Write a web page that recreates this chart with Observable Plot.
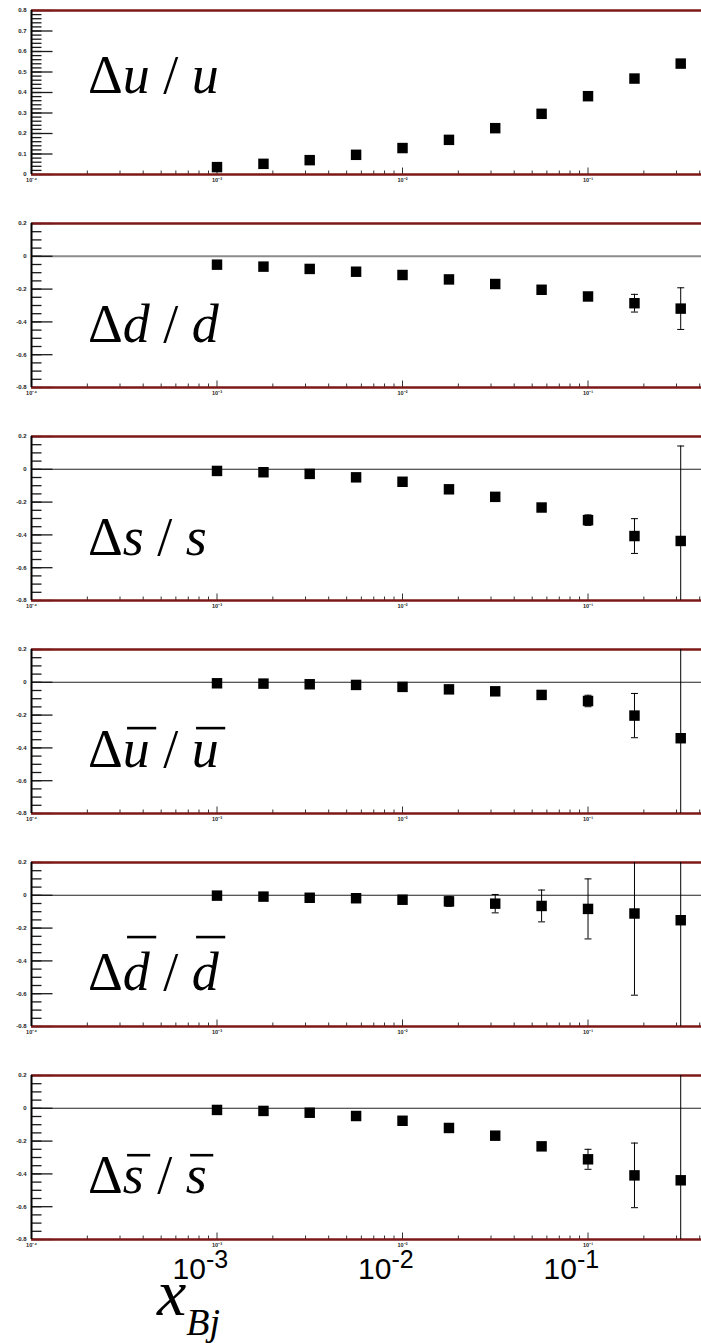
<!DOCTYPE html>
<html>
<head>
<meta charset="utf-8">
<script src="https://cdn.jsdelivr.net/npm/d3@7"></script>
<script src="https://cdn.jsdelivr.net/npm/@observablehq/plot@0.6"></script>
<style>
  body { margin: 0; background: #fff; }
  #chart svg { display: block; overflow: hidden; }
</style>
</head>
<body>
<div id="chart"></div>
<script>
// Bjorken-x bin centres (quarter-decade steps)
const xBj = [0.001, 0.00178, 0.00316, 0.00562, 0.01, 0.0178, 0.0316, 0.0562, 0.1, 0.178, 0.316];

// Polarisation ratios per flavour and their errors
const duOverU   = [0.036, 0.052, 0.070, 0.096, 0.129, 0.169, 0.226, 0.296, 0.382, 0.468, 0.541];
const duErr     = [0.004, 0.004, 0.004, 0.005, 0.006, 0.007, 0.008, 0.009, 0.010, 0.012, 0.014];

const ddOverD   = [-0.051, -0.063, -0.077, -0.094, -0.114, -0.141, -0.169, -0.204, -0.245, -0.286, -0.319];
const ddErr     = [0.004, 0.004, 0.005, 0.006, 0.007, 0.008, 0.010, 0.012, 0.020, 0.054, 0.127];

const dsOverS   = [-0.010, -0.018, -0.028, -0.049, -0.076, -0.122, -0.168, -0.233, -0.310, -0.407, -0.437];
const dsErr     = [0.003, 0.004, 0.005, 0.006, 0.008, 0.010, 0.013, 0.018, 0.032, 0.106, 0.579];

const dubOverUb = [-0.006, -0.008, -0.012, -0.016, -0.028, -0.043, -0.055, -0.077, -0.114, -0.203, -0.341];
const dubErr    = [0.003, 0.003, 0.004, 0.005, 0.006, 0.008, 0.010, 0.015, 0.035, 0.135, 0.600];

const ddbOverDb = [-0.002, -0.008, -0.015, -0.018, -0.027, -0.037, -0.051, -0.065, -0.083, -0.111, -0.152];
const ddbErr    = [0.004, 0.005, 0.006, 0.008, 0.012, 0.030, 0.056, 0.097, 0.183, 0.498, 0.700];

const dsbOverSb = [-0.010, -0.016, -0.027, -0.047, -0.076, -0.120, -0.167, -0.232, -0.311, -0.409, -0.439];
const dsbErr    = [0.003, 0.004, 0.005, 0.006, 0.008, 0.010, 0.013, 0.018, 0.061, 0.197, 0.700];

// Axis ranges and tick values
const xDomain = [1e-4, 0.409];
const xDecades = [1e-4, 1e-3, 1e-2, 1e-1];
const xDecadeLabels = ["10\u207B\u2074", "10\u207B\u00B3", "10\u207B\u00B2", "10\u207B\u00B9"];
const xMinor = [2,3,4,5,6,7,8,9].flatMap(k => [1e-4, 1e-3, 1e-2, 1e-1].map(p => k * p)).filter(v => v < xDomain[1]);
const bigTicks = [1e-3, 1e-2, 1e-1];
const bigTickExp = ["-3", "-2", "-1"];

const yDomainU = [0, 0.8];
const yMajorU = [0, 0.1, 0.2, 0.3, 0.4, 0.5, 0.6, 0.7, 0.8];
const yMinorU = d3.range(0, 41).map(i => +(i * 0.02).toFixed(2));
const yDomain = [-0.8, 0.2];
const yMajor = [-0.8, -0.6, -0.4, -0.2, 0, 0.2];
const yMinor = d3.range(0, 21).map(i => +(-0.8 + i * 0.05).toFixed(2));

// Panel titles: [text, italic, overbar height in em]
const labelU   = [["\u0394"], ["u", 1], [" / "], ["u", 1]];
const labelD   = [["\u0394"], ["d", 1], [" / "], ["d", 1]];
const labelS   = [["\u0394"], ["s", 1], [" / "], ["s", 1]];
const labelUb  = [["\u0394"], ["u", 1, 0.72], [" / "], ["u", 1, 0.72]];
const labelDb  = [["\u0394"], ["d", 1, 0.98], [" / "], ["d", 1, 0.98]];
const labelSb  = [["\u0394"], ["s", 1, 0.7], [" / "], ["s", 1, 0.7]];

const panels = [
  {values: duOverU,   errors: duErr,  domain: yDomainU, major: yMajorU, minor: yMinorU, label: labelU,  labelY: 83,  zero: null},
  {values: ddOverD,   errors: ddErr,  domain: yDomain,  major: yMajor,  minor: yMinor,  label: labelD,  labelY: 119, zero: {stroke: "#8c8c8c", width: 2}},
  {values: dsOverS,   errors: dsErr,  domain: yDomain,  major: yMajor,  minor: yMinor,  label: labelS,  labelY: 119, zero: {stroke: "#222", width: 1.1}},
  {values: dubOverUb, errors: dubErr, domain: yDomain,  major: yMajor,  minor: yMinor,  label: labelUb, labelY: 118, zero: {stroke: "#222", width: 1.1}},
  {values: ddbOverDb, errors: ddbErr, domain: yDomain,  major: yMajor,  minor: yMinor,  label: labelDb, labelY: 128, zero: {stroke: "#222", width: 1.1}},
  {values: dsbOverSb, errors: dsbErr, domain: yDomain,  major: yMajor,  minor: yMinor,  label: labelSb, labelY: 118, zero: {stroke: "#222", width: 1.1}}
];

const serif = '"Liberation Serif", "Times New Roman", Times, serif';
const sans = '"Liberation Sans", Arial, Helvetica, sans-serif';
const frameRed = "#7d1818";

// Custom symbols: inward axis ticks and error-bar caps
const hTick = len => ({draw(ctx) { ctx.moveTo(0, 0); ctx.lineTo(len, 0); }});
const vTick = len => ({draw(ctx) { ctx.moveTo(0, 0); ctx.lineTo(0, -len); }});
const cap = w => ({draw(ctx) { ctx.moveTo(-w / 2, 0); ctx.lineTo(w / 2, 0); }});

const fmtY = d => d === 0 ? "0" : d.toFixed(1);
const container = document.getElementById("chart");
const plotHeight = 164;

function drawLabel(svg, parts, x, y, size) {
  const text = d3.select(svg).append("text")
    .attr("x", x).attr("y", y).attr("text-anchor", "start")
    .attr("font-family", serif).attr("font-size", size).attr("fill", "black");
  parts.forEach(([t, italic]) => text.append("tspan").attr("font-style", italic ? "italic" : "normal").text(t));
  const node = text.node();
  let idx = 0;
  parts.forEach(([t, italic, bar]) => {
    if (bar) {
      const start = node.getStartPositionOfChar(idx).x;
      const len = node.getSubStringLength(idx, t.length);
      const by = y - bar * size;
      d3.select(svg).append("line")
        .attr("x1", start + 0.08 * size).attr("x2", start + len + 0.12 * size)
        .attr("y1", by).attr("y2", by)
        .attr("stroke", "black").attr("stroke-width", 2.6);
    }
    idx += t.length;
  });
}

panels.forEach((cfg, i) => {
  const last = i === panels.length - 1;
  const height = last ? 278 : 213;
  const rows = xBj.map((x, k) => ({x, y: cfg.values[k], e: cfg.errors[k]}));
  const marks = [];
  if (cfg.zero) marks.push(Plot.ruleY([0], {stroke: cfg.zero.stroke, strokeWidth: cfg.zero.width}));
  marks.push(
    // y-axis: minor and major ticks drawn inward, labels outside
    Plot.dot(cfg.minor, {y: d => d, frameAnchor: "left", symbol: hTick(10), fill: "none", stroke: "#1a1a1a", strokeWidth: 1.3}),
    Plot.dot(cfg.major, {y: d => d, frameAnchor: "left", symbol: hTick(21), fill: "none", stroke: "#1a1a1a", strokeWidth: 1.3}),
    Plot.text(cfg.major, {y: d => d, frameAnchor: "left", dx: -5, textAnchor: "end", text: fmtY,
      fontSize: 6, fontWeight: "bold", fontFamily: sans, fill: "#222"}),
    // x-axis: log ticks on the bottom edge
    Plot.dot(xMinor, {x: d => d, frameAnchor: "bottom", symbol: vTick(4), fill: "none", stroke: "#333", strokeWidth: 1}),
    Plot.dot(xDecades, {x: d => d, frameAnchor: "bottom", symbol: vTick(7), fill: "none", stroke: "#333", strokeWidth: 1}),
    Plot.text(xDecades, {x: d => d, frameAnchor: "bottom", dy: 7, text: (d, k) => xDecadeLabels[k],
      fontSize: 5.5, fontWeight: "bold", fontFamily: sans, fill: "#222"}),
    // frame: top and bottom edges plus left axis line
    Plot.ruleY(cfg.domain, {stroke: frameRed, strokeWidth: 2.4}),
    Plot.ruleX([xDomain[0]], {stroke: "black", strokeWidth: 2}),
    // error bars with caps
    Plot.ruleX(rows, {x: "x", y1: d => d.y - d.e, y2: d => d.y + d.e, stroke: "black", strokeWidth: 1, clip: true}),
    Plot.dot(rows, {x: "x", y: d => d.y + d.e, symbol: cap(7), fill: "none", stroke: "black", strokeWidth: 1, clip: true}),
    Plot.dot(rows, {x: "x", y: d => d.y - d.e, symbol: cap(7), fill: "none", stroke: "black", strokeWidth: 1, clip: true}),
    // data markers
    Plot.dot(rows, {x: "x", y: "y", symbol: "square", r: 5.9, fill: "black", stroke: "none"})
  );

  const plot = Plot.plot({
    width: 701,
    height,
    marginLeft: 31,
    marginRight: 0,
    marginTop: 10,
    marginBottom: height - 10 - plotHeight,
    style: {background: "white", overflow: "hidden"},
    x: {type: "log", domain: xDomain, axis: null},
    y: {domain: cfg.domain, axis: null},
    marks
  });
  container.appendChild(plot);

  drawLabel(plot, cfg.label, 88, 10 + cfg.labelY, 54);

  if (last) {
    const sx = plot.scale("x");
    const svg = d3.select(plot);
    bigTicks.forEach((v, k) => {
      const t = svg.append("text")
        .attr("x", sx.apply(v) - 44).attr("y", 214).attr("text-anchor", "start")
        .attr("font-family", sans).attr("font-size", 30).attr("fill", "black");
      t.append("tspan").text("10");
      t.append("tspan").attr("font-size", 25).attr("dy", -11).text(bigTickExp[k]);
    });
    const xl = svg.append("text")
      .attr("x", 157).attr("y", 250).attr("text-anchor", "start")
      .attr("font-family", serif).attr("font-style", "italic").attr("font-size", 66).attr("fill", "black");
    xl.append("tspan").text("x");
    xl.append("tspan").attr("font-size", 38).attr("dy", 20).text("Bj");
  }
});
</script>
</body>
</html>
